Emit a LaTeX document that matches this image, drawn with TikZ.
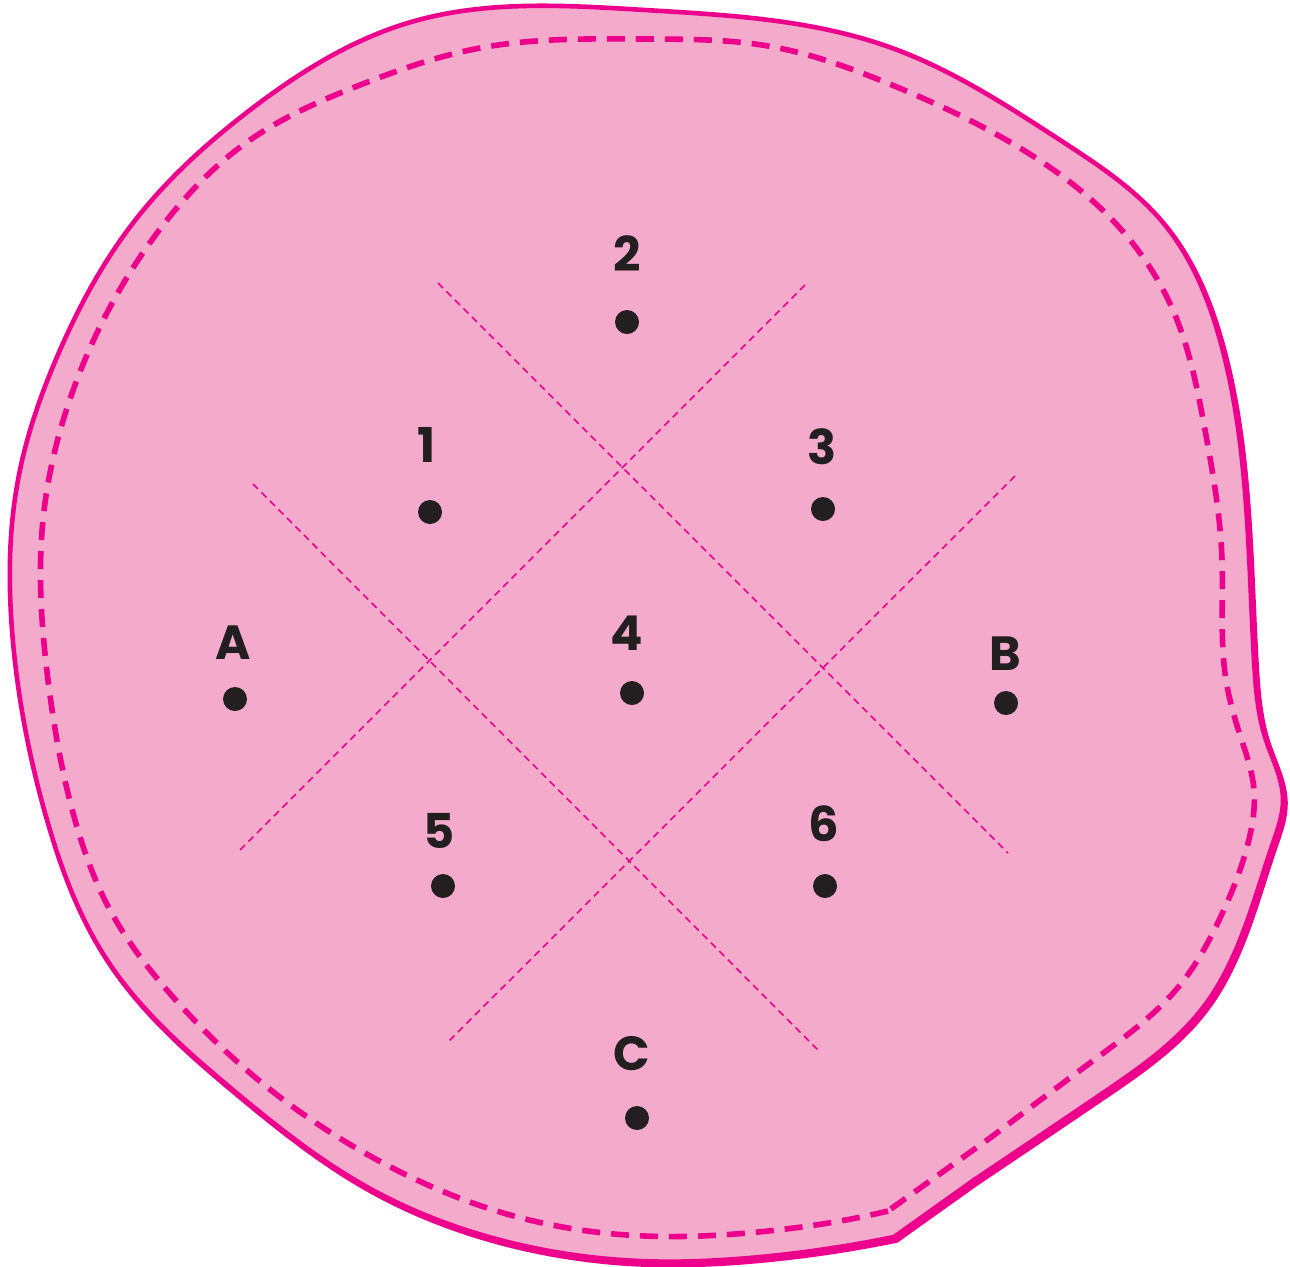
\documentclass[tikz,border=0pt]{standalone}
\usepackage{fontspec}
\setmainfont{Poppins}
\usetikzlibrary{hobby}
\definecolor{mag}{HTML}{EC008C}
\definecolor{pinkfill}{HTML}{F3AACB}
\definecolor{ink}{HTML}{231F20}
\def\outerpath{(894,1237) to[curve through={
  (760,1257) .. (640,1261) .. (500,1240) .. (367,1187) .. (233,1090) .. (107,960)
  .. (47,820) .. (12,630) .. (18,480) .. (60,350) .. (133,223) .. (250,110)
  .. (411,22) .. (645,10) .. (892,48) .. (1060,140) .. (1165,225) .. (1220,340)
  .. (1246,505) .. (1254,660) .. (1266,740) .. (1283,800) .. (1273,843)
  .. (1240,940) .. (1205,1005) .. (1100,1095)}] (974,1180) -- cycle}
\begin{document}
\begin{tikzpicture}[x=0.5pt,y=-0.5pt,
  outline/.style={draw=mag, line width=2.3pt, fill=pinkfill, line join=round},
  shade/.style={draw=mag, line width=2.3pt, line join=round},
  stitch/.style={draw=mag, line width=2.8pt, dash pattern=on 9pt off 5.5pt},
  guide/.style={draw=mag, line width=0.8pt, dash pattern=on 3.5pt off 2.5pt},
  lbl/.style={text=ink, font=\fontsize{24}{24}\selectfont\bfseries, inner sep=0pt},
  dot/.style={circle, fill=ink, minimum size=12pt, inner sep=0pt}]
\useasboundingbox (0,0) rectangle (1290,1266);
% outer outline (heavier towards the lower right)
\begin{scope}[shift={(2.5,3.5)}]
\path[shade] \outerpath;
\end{scope}
\path[outline] \outerpath;
% inner stitched line
\path[stitch] (888,1211) to[curve through={
  (851,1219) .. (768,1231) .. (645,1236) .. (500,1212) .. (383,1163) .. (267,1087)
  .. (173,997) .. (110,910) .. (75,820) .. (48,680) .. (43,520) .. (75,385)
  .. (157,233) .. (250,140) .. (360,85) .. (480,48) .. (645,39) .. (768,46)
  .. (892,85) .. (1015,145) .. (1118,226) .. (1175,315) .. (1205,430)
  .. (1222,560) .. (1226,680) .. (1240,735) .. (1254,790) .. (1250,835)
  .. (1221,916) .. (1180,985) .. (1098,1057)}] (990,1138) -- cycle;
% guide lines
\coordinate (g1s) at (438,283);  \coordinate (g1e) at (1008,853);
\coordinate (g2s) at (253,484);  \coordinate (g2e) at (819,1051);
\coordinate (g3s) at (805,285);  \coordinate (g3e) at (237,853);
\coordinate (g4s) at (1015,476); \coordinate (g4e) at (446,1044);
\draw[guide] (g1s) -- (g1e);
\draw[guide] (g2s) -- (g2e);
\draw[guide] (g3s) -- (g3e);
\draw[guide] (g4s) -- (g4e);
% labels and points
\node[lbl] (t2) at (627,254) {2};  \node[dot] (p2) at (627,322) {};
\node[lbl] (t1) at (427,445) {1};  \node[dot] (p1) at (430,512) {};
\node[lbl] (t3) at (822,447) {3};  \node[dot] (p3) at (823,509) {};
\node[lbl] (tA) at (233,643) {A};  \node[dot] (pA) at (235,699) {};
\node[lbl] (t4) at (627,633) {4};  \node[dot] (p4) at (632,693) {};
\node[lbl] (tB) at (1005,654) {B}; \node[dot] (pB) at (1006,703) {};
\node[lbl] (t5) at (439,831) {5};  \node[dot] (p5) at (443,886) {};
\node[lbl] (t6) at (824,824) {6};  \node[dot] (p6) at (825,886) {};
\node[lbl] (tC) at (632,1054) {C}; \node[dot] (pC) at (637,1118) {};
\end{tikzpicture}
\end{document}
